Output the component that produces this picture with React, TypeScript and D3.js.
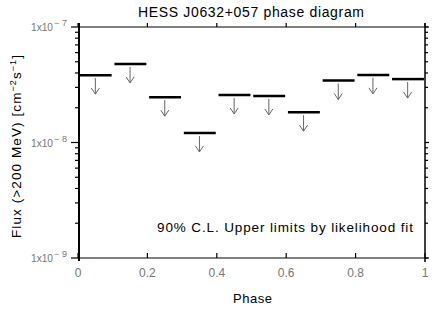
import React from "react";
import * as d3 from "d3";

const phaseStart = [0.0, 0.1, 0.2, 0.3, 0.4, 0.5, 0.6, 0.7, 0.8, 0.9];
const upperLimits = [3.83e-8, 4.79e-8, 2.47e-8, 1.21e-8, 2.58e-8, 2.53e-8, 1.83e-8, 3.44e-8, 3.85e-8, 3.54e-8];
const xTicks = [0, 0.2, 0.4, 0.6, 0.8, 1];
const xTickLabels = ["0", "0.2", "0.4", "0.6", "0.8", "1"];
const yMajor = [1e-9, 1e-8, 1e-7];
const yMajorExp = ["-9", "-8", "-7"];

const W = 436, H = 311;
const M = { left: 78, right: 425, top: 27, bottom: 258 };

export default function App() {
  const x = d3.scaleLinear().domain([0, 1]).range([M.left, M.right]);
  const y = d3.scaleLog().domain([1e-9, 1e-7]).range([M.bottom, M.top]);
  const minor: number[] = [];
  [1e-9, 1e-8].forEach((d) => {
    for (let k = 2; k <= 9; k++) minor.push(d * k);
  });
  const font = "'Liberation Sans', Arial, sans-serif";
  const gray = "#777";
  return (
    <svg width={W} height={H} style={{ position: "absolute", left: 0, top: 0, background: "#fff" }} fontFamily={font}>
      <rect width={W} height={H} fill="#fff" />
      {/* frame */}
      <line x1={M.left} x2={M.right + 3} y1={M.top} y2={M.top} stroke="#808080" strokeWidth={2} />
      <line x1={M.left} x2={M.right + 3} y1={M.bottom} y2={M.bottom} stroke="#808080" strokeWidth={2} />
      <line x1={M.left + 1} x2={M.left + 1} y1={M.top - 4} y2={M.bottom + 3} stroke="#000" strokeWidth={2} />
      <line x1={M.right} x2={M.right} y1={M.top - 4} y2={M.bottom + 4} stroke="#000" strokeWidth={1.5} />
      {/* x ticks */}
      {xTicks.map((t, i) => (
        <g key={"xt" + i}>
          <line x1={x(t)} x2={x(t)} y1={M.bottom} y2={M.bottom - 5} stroke="#000" strokeWidth={1.2} />
          <line x1={x(t)} x2={x(t)} y1={M.top} y2={M.top - 4} stroke="#000" strokeWidth={1.2} />
          <text x={x(t)} y={277} textAnchor="middle" fontSize={12} fill={gray}>{xTickLabels[i]}</text>
        </g>
      ))}
      {/* y ticks */}
      {yMajor.map((t, i) => (
        <g key={"ym" + i}>
          <line x1={M.left - 7} x2={M.left} y1={y(t)} y2={y(t)} stroke="#000" strokeWidth={1.2} />
          <line x1={M.right} x2={M.right + 4} y1={y(t)} y2={y(t)} stroke="#000" strokeWidth={1.2} />
          <text x={53} y={y(t) + 4} textAnchor="end" fontSize={11} fill={gray} textLength={22} lengthAdjust="spacingAndGlyphs">1x10</text>
          <text x={54} y={y(t) - 1} textAnchor="start" fontSize={9} fill={gray} textLength={13} lengthAdjust="spacing">{"\u2212" + yMajorExp[i].slice(1)}</text>
        </g>
      ))}
      {minor.map((t, i) => (
        <g key={"yn" + i}>
          <line x1={M.left - 3} x2={M.left} y1={y(t)} y2={y(t)} stroke="#000" strokeWidth={1.2} />
          <line x1={M.right} x2={M.right + 3} y1={y(t)} y2={y(t)} stroke="#000" strokeWidth={1.2} />
        </g>
      ))}
      {/* data */}
      {phaseStart.map((p, i) => {
        const v = upperLimits[i];
        const yy = y(v);
        const cx = x(p + 0.05);
        return (
          <g key={"d" + i}>
            <line x1={x(p + 0.005)} x2={x(p + 0.097)} y1={yy} y2={yy} stroke="#000" strokeWidth={2.5} />
            <line x1={cx} x2={cx} y1={yy + 3} y2={yy + 19} stroke="#666" strokeWidth={1} />
            <path d={`M${cx - 4},${yy + 13} L${cx},${yy + 19} L${cx + 4},${yy + 13}`} fill="none" stroke="#666" strokeWidth={1} />
          </g>
        );
      })}
      {/* texts */}
      <text x={138} y={17} fontSize={14} textLength={226} lengthAdjust="spacing">HESS J0632+057 phase diagram</text>
      <text x={233} y={303} fontSize={13} textLength={39} lengthAdjust="spacing">Phase</text>
      <text x={157} y={232} fontSize={13.5} textLength={256} lengthAdjust="spacing">90% C.L. Upper limits by likelihood fit</text>
      <text transform="translate(21,238) rotate(-90)" fontSize={13.5} textLength={183} lengthAdjust="spacing">
        Flux (&gt;200 MeV) [cm<tspan dy={-5} fontSize={9}>−2</tspan><tspan dy={5}>s</tspan><tspan dy={-5} fontSize={9}>−1</tspan><tspan dy={5}>]</tspan>
      </text>
    </svg>
  );
}
